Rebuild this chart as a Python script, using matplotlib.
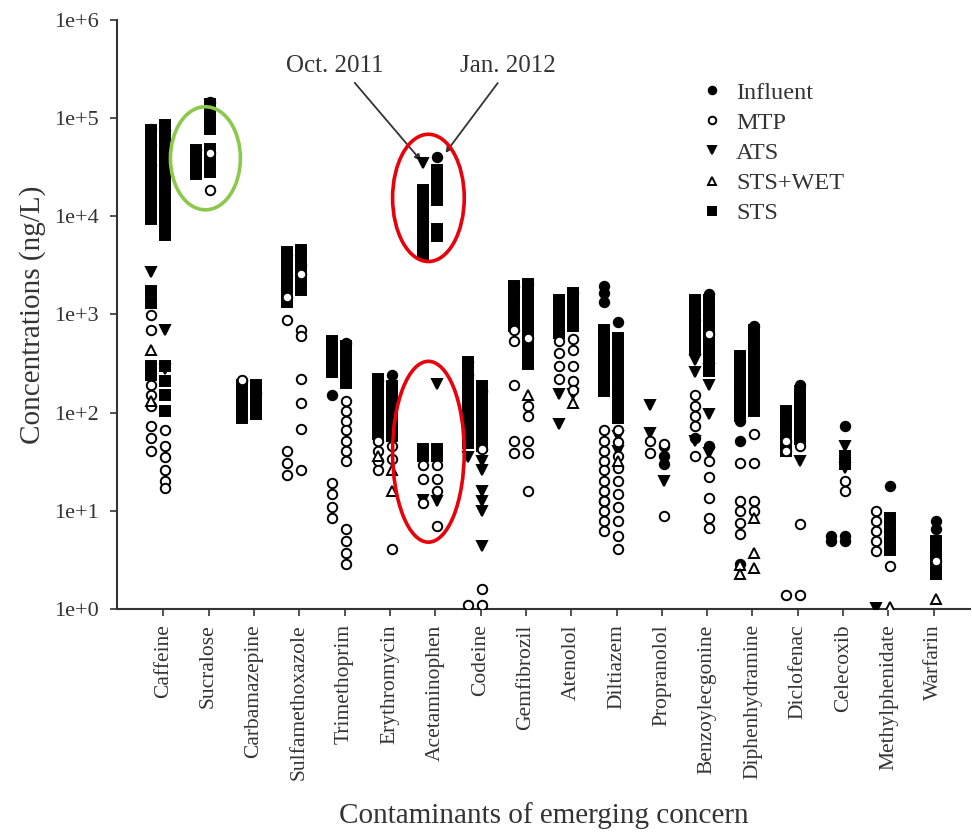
import matplotlib
matplotlib.use("Agg")
import matplotlib.pyplot as plt
from matplotlib.patches import Ellipse

# Données (ng/L) : colonne gauche = Oct. 2011, droite = Jan. 2012

compounds = ["Caffeine", "Sucralose", "Carbamazepine", "Sulfamethoxazole",
             "Trimethoprim", "Erythromycin", "Acetaminophen", "Codeine",
             "Gemfibrozil", "Atenolol", "Diltiazem", "Propranolol",
             "Benzoylecgonine", "Diphenhydramine", "Diclofenac", "Celecoxib",
             "Methylphenidate", "Warfarin"]

influent_oct = [[78000, 53000, 33000], [47000], [212], [4000, 2500], [150], [210], [],
                [330, 240], [1950], [], [1950, 1650, 1350, 12.6], [], [870, 55],
                [83, 52, 2.9], [], [5.6, 4.9], [], []]
influent_jan = [[75000, 47000], [145000], [160], [3200], [510], [240], [40000],
                [168], [2050], [1650], [830], [46, 36, 30], [1600, 46], [770],
                [190], [74, 5.6, 4.9], [18], [7.9, 6.5]]

mtp_oct = [[980, 690, 190, 150, 118, 74, 55, 41], [], [215], [1500, 870, 41, 31, 23],
           [19, 15, 11, 8.5], [52, 41, 32, 26], [29, 21, 12], [1.1],
           [690, 540, 190, 52, 39], [540, 410, 300, 220],
           [66, 52, 41, 32, 26, 20, 16, 12.6, 10, 7.9, 6.3], [52, 39],
           [150, 118, 93, 74, 36], [31, 12.6, 10, 7.5, 5.8], [52, 41, 1.4], [],
           [10, 7.9, 6.3, 4.9, 3.9], []]
mtp_jan = [[66, 46, 35, 26, 20, 17], [44000, 18400], [], [2600, 700, 600, 220, 125, 68, 26],
           [133, 105, 83, 66, 52, 41, 32, 6.6, 4.9, 3.7, 2.9], [46, 34, 4.1],
           [29, 21, 16, 7], [43, 1.6, 1.1], [580, 118, 93, 52, 39, 16],
           [560, 430, 300, 210, 170], [66, 50, 36, 27, 20, 15, 11, 7.9, 5.5, 4.1],
           [48, 8.9], [640, 32, 22, 13.6, 8.5, 6.7], [61, 31, 12.6, 10],
           [46, 7.4, 1.4], [20, 16], [2.75], [3.1]]

ats_oct = [[2700], [], [], [], [], [], [35000, 13], [35], [], [155, 77], [], [120, 62],
           [340, 260, 52], [], [], [], [1.02], []]
ats_jan = [[690, 280], [], [], [], [], [], [196, 12.6], [32, 26, 16, 12.6, 10, 4.4], [],
           [155], [58, 41], [20], [280, 190, 98, 39], [], [32], [46, 27], [], []]

wet_oct = [[430, 133], [], [], [], [], [36], [], [], [], [], [], [], [], [2.8, 2.3],
           [], [], [], []]
wet_jan = [[], [], [], [], [], [26, 16], [], [], [150], [125], [32], [], [],
           [8.5, 3.7, 2.6], [], [], [1.05], [1.27]]

sts_oct = [[75500, 63000, 52000, 43000, 36000, 29500, 24500, 20000, 16800, 13800,
            11500, 9500, 1750, 1300, 300, 240],
           [47000, 39000, 32500, 27000], [190, 158, 130, 108, 89],
           [4300, 3400, 2700, 2150, 1700, 1350], [540, 450, 370, 310, 260],
           [220, 183, 152, 126, 105, 87, 72, 60],
           [18500, 15000, 12600, 10500, 8700, 7200, 6000, 4900, 4100, 43, 36],
           [330, 268, 220, 183, 152, 126, 105, 87, 72, 60, 49],
           [1950, 1640, 1360, 1130, 930, 770], [1390, 1160, 950, 790, 650],
           [690, 540, 430, 340, 268, 212, 168], [],
           [1390, 1100, 870, 690, 540, 430], [380, 300, 240, 190, 150, 118, 93],
           [105, 87, 72, 60, 50, 41], [], [], []]
sts_jan = [[85000, 67000, 53000, 42000, 33000, 26000, 21000, 16500, 13000, 10300,
            8100, 6400, 300, 210, 150, 105],
           [140000, 115000, 95000, 78000, 49000, 41000, 34000, 28000],
           [190, 165, 140, 118, 98], [4500, 3560, 2810, 2220, 1760],
           [480, 380, 300, 240, 200], [188, 150, 118, 93, 74, 58],
           [29500, 24500, 20400, 16600, 14500, 7500, 6300, 43, 36],
           [188, 150, 118, 93, 74, 58, 46],
           [2050, 1700, 1420, 1180, 980, 820, 670, 560, 460, 380, 315],
           [1650, 1370, 1140, 940, 770],
           [580, 460, 360, 290, 230, 180, 142, 112, 89], [],
           [1390, 1100, 870, 690, 540, 430, 340, 268],
           [690, 540, 430, 340, 268, 212, 168, 133, 105],
           [168, 139, 115, 95, 79, 66, 54], [36, 30], [8.5, 7, 5.8, 4.8, 4],
           [4.9, 4.1, 3.4, 2.8, 2.3]]

OCT_SHIFT, JAN_SHIFT = -0.27, 0.04
INK = "#333333"

plt.rcParams["font.family"] = ["Liberation Serif", "DejaVu Serif"]


def points(oct_vals, jan_vals):
    xs, ys = [], []
    for i, (a, b) in enumerate(zip(oct_vals, jan_vals)):
        xs += [i + OCT_SHIFT] * len(a)
        ys += list(a)
        xs += [i + JAN_SHIFT] * len(b)
        ys += list(b)
    return xs, ys


fig = plt.figure(figsize=(9.72, 8.32), dpi=100)
ax = fig.add_axes([0.1204, 0.268, 0.8776, 0.708])
ax.set_yscale("log")
ax.set_xlim(-1.02, 17.8)
ax.set_ylim(1, 1e6)

series = [
    # label, oct, jan, marker, face, size, zorder
    ("Influent", influent_oct, influent_jan, "o", "black", 6.8, 3),
    ("MTP", mtp_oct, mtp_jan, "o", "white", 6.8, 5),
    ("ATS", ats_oct, ats_jan, "v", "black", 7.2, 4),
    ("STS+WET", wet_oct, wet_jan, "^", "white", 6.8, 6),
    ("STS", sts_oct, sts_jan, "s", "black", 6.8, 2),
]
handles = []
for label, o, j, m, fc, ms, z in series:
    xs, ys = points(o, j)
    h, = ax.plot(xs, ys, ls="none", marker=m, ms=ms, mfc=fc, mec="black",
                 mew=1.4, zorder=z, label=label)
    handles.append(h)

leg = ax.legend(handles=handles, loc="upper left", bbox_to_anchor=(0.66, 0.932),
                frameon=False, fontsize=17.5, handlelength=0.8, handletextpad=0.6,
                labelspacing=0.33, markerscale=0.8)
for t in leg.get_texts():
    t.set_color(INK)

# axes
ax.set_yticks([10.0 ** k for k in range(7)])
ax.set_yticklabels(["1e+%d" % k for k in range(7)])
ax.minorticks_off()
ax.set_xticks(range(len(compounds)))
ax.set_xticklabels(compounds, rotation=90, fontsize=15.5, color=INK)
ax.tick_params(axis="y", labelsize=16, labelcolor=INK, length=5, width=1.2,
               color=INK, pad=8)
ax.tick_params(axis="x", length=5, width=1.2, color=INK, pad=6)
for s in ["top", "right"]:
    ax.spines[s].set_visible(False)
for s in ["left", "bottom"]:
    ax.spines[s].set_linewidth(1.5)
    ax.spines[s].set_color(INK)
ax.set_ylabel("Concentrations (ng/L)", fontsize=21, color=INK, labelpad=6)
ax.set_xlabel("Contaminants of emerging concern", fontsize=21, color=INK, labelpad=16)

# annotations
acet = compounds.index("Acetaminophen")
ax.annotate("Oct. 2011", xy=(acet + OCT_SHIFT, 35000), xytext=(0.2556, 0.922),
            textcoords="axes fraction", ha="center", va="center", fontsize=18, color=INK,
            arrowprops=dict(arrowstyle="-|>", color=INK, lw=1.3, mutation_scale=9,
                            relpos=(0.65, 0.0), shrinkA=3, shrinkB=2))
ax.annotate("Jan. 2012", xy=(acet + JAN_SHIFT + 0.15, 42000), xytext=(0.4584, 0.922),
            textcoords="axes fraction", ha="center", va="center", fontsize=18, color=INK,
            arrowprops=dict(arrowstyle="-|>", color=INK, lw=1.3, mutation_scale=9,
                            relpos=(0.44, 0.0), shrinkA=3, shrinkB=2))

to_axes = ax.transData + ax.transAxes.inverted()
rings = [
    (0.93, 39000, 0.082, 0.175, "#8cc84b"),
    (acet - 0.15, 15400, 0.084, 0.216, "#e8000b"),
    (acet - 0.15, 40, 0.084, 0.307, "#e8000b"),
]
for cx, cy, w, h, col in rings:
    c = to_axes.transform((cx, cy))
    ax.add_patch(Ellipse(c, w, h, transform=ax.transAxes, fill=False,
                         edgecolor=col, lw=2.6, zorder=8, clip_on=False))

fig.savefig("out.png", dpi=100)
